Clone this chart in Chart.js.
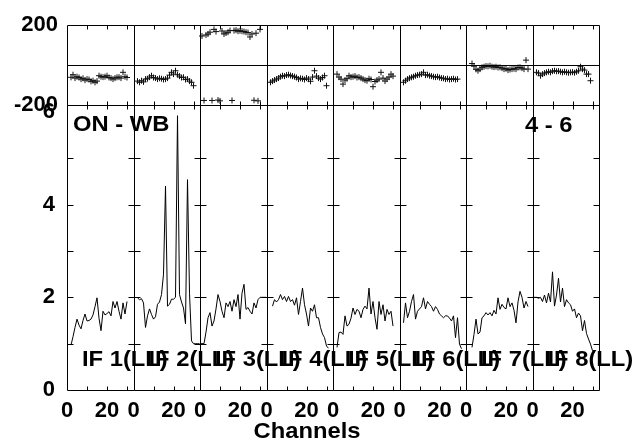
<!DOCTYPE html>
<html>
<head>
<meta charset="utf-8">
<script src="https://cdn.jsdelivr.net/npm/chart.js@4"></script>
<style>
  body { margin: 0; background: #fff; }
</style>
</head>
<body>
<canvas id="possm" width="636" height="443"></canvas>
<script>
// channel index inside one IF panel
const channels = [0, 1, 2, 3, 4, 5, 6, 7, 8, 9, 10, 11, 12, 13, 14, 15, 16,
  17, 18, 19, 20, 21, 22, 23, 24, 25, 26, 27, 28, 29, 30, 31, 32, 33];
const panelWidth = 33.25;
const ifLabels = ['IF 1(LL)', 'IF 2(LL)', 'IF 3(LL)', 'IF 4(LL)', 'IF 5(LL)', 'IF 6(LL)', 'IF 7(LL)', 'IF 8(LL)'];
const xTicks = [0, 20];
const xMinorTicks = [10, 20, 30];
const ampTicks = [0, 2, 4, 6];
const ampMinorTicks = [1, 2, 3, 4, 5];
const phaseTicks = [-200, 200];

// amplitude per IF (ON - WB)
const ampIF1 = [null, null, 0.97, 1.15, 1.35, 1.53, 1.40, 1.32, 1.50, 1.64, 1.49, 1.50, 1.53, 1.62, 1.80, 1.99, 1.55, 1.28, 1.70, 1.62, 1.65, 1.69, 1.60, 1.91, 1.77, 1.91, 1.70, 1.53, 1.88, 1.64, 1.91, null, null, null];
const ampIF2 = [null, null, 1.99, 1.95, 1.97, 1.88, 1.35, 1.60, 1.75, 1.63, 1.53, 1.58, 1.85, 1.90, 2.06, 2.5, 4.40, 1.81, 1.85, 1.96, 1.96, 2.0, 5.92, 2.06, 1.90, 1.77, 1.43, 4.54, 2.09, 1.06, 1.0, 1.0, 1.0, 1.0];
const ampIF3 = [1.0, 1.0, 1.0, 1.25, 1.56, 1.67, 1.38, 1.49, 1.75, 2.06, 1.91, 1.70, 1.56, 1.88, 1.80, 1.91, 1.70, 1.95, 1.80, 2.06, 1.53, 2.09, 2.28, 1.74, 1.78, 1.70, 1.64, 1.88, 1.77, 1.95, 2.0, 2.0, 2.0, 2.0];
const ampIF4 = [null, null, null, 1.81, 1.95, 1.90, 1.95, 2.06, 1.95, 2.02, 1.91, 2.02, 1.91, 1.95, 1.83, 1.99, 1.63, 1.91, 2.20, 1.84, 1.64, 1.38, 1.77, 1.70, 1.84, 1.56, 1.56, 1.35, 1.21, 1.13, 0.95, 0.90, null, null];
const ampIF5 = [null, null, 0.92, 1.24, 1.25, 1.20, 1.60, 1.38, 1.42, 1.55, 1.77, 1.63, 1.74, 1.70, 1.56, 1.74, 1.81, 1.75, 2.20, 1.64, 1.91, 1.56, 1.31, 1.91, 1.63, 1.84, 1.49, 1.74, 1.63, 1.70, 1.38, null, null, null];
const ampIF6 = [null, null, 1.45, 1.88, 1.56, 1.70, 1.91, 2.06, 1.53, 1.70, 1.75, 1.80, 1.99, 1.75, 1.91, 1.85, 1.80, 1.70, 1.80, 1.74, 1.64, 1.60, 1.56, 1.60, 1.60, 1.55, 1.49, 1.60, 1.13, 1.56, 0.99, 0.89, null, null];
const ampIF7 = [null, null, null, 0.92, 1.20, 1.53, 1.21, 1.25, 1.56, 1.60, 1.67, 1.62, 1.67, 1.60, 1.72, 1.64, 1.99, 1.74, 1.85, 1.78, 1.75, 1.99, 1.80, 1.88, 1.72, 1.45, 1.90, 2.13, 2.00, 1.77, 1.91, 1.80, null, null];
const ampIF8 = [2.0, 2.0, 2.0, 1.98, 2.0, 1.91, 2.05, 1.88, 2.09, 1.90, 2.55, 1.81, 2.05, 2.41, 1.90, 2.20, 1.80, 1.95, 1.88, 1.84, 1.70, 1.75, 1.56, 1.66, 1.60, 1.28, 1.50, 1.22, 1.10, 0.99, 0.85, 0.80, null, null];

// phase per IF (degrees)
const phaseIF1 = [null, null, -61, -48, -65, -58, -62, -70, -66, -75, -70, -72, -81, -78, -86, -80, -53, -58, -60, -58, -53, -62, -65, -70, -65, -61, -60, -65, -36, -58, -62, null, null, null];
const phaseIF2 = [null, null, -80, -86, -78, -84, -70, -68, -60, -53, -62, -65, -70, -66, -68, -72, -70, -65, -50, -36, -45, -28, -48, -55, -62, -61, -72, -70, -80, -86, -103, null, null, null];
const phaseIF3 = [null, 146, -177, 151, 156, 165, -177, 179, 168, -175, -179, 171, 156, 161, 165, 173, -177, 173, 175, 170, 172, 170, 168, 165, 163, 141, 156, -176, 160, -179, 179, null, null, null];
const phaseIF4 = [null, null, -86, -80, -75, -70, -65, -58, -53, -55, -50, -48, -52, -55, -58, -62, -70, -66, -68, -72, -65, -70, -81, -60, -28, -55, -65, -70, -62, -53, -103, null, null, null];
const phaseIF5 = [null, null, -45, -60, -70, -95, -75, -68, -53, -60, -58, -55, -62, -60, -65, -70, -75, -78, -68, -72, -108, -82, -75, -70, -36, -65, -80, -70, -60, -45, -55, null, null, null];
const phaseIF6 = [null, null, -86, -78, -70, -65, -61, -58, -53, -50, -48, -45, -36, -50, -48, -53, -55, -58, -60, -58, -62, -65, -66, -70, -68, -72, -70, -68, -72, -70, null, null, null, null];
const phaseIF7 = [null, null, null, 8, -5, -21, -28, -20, -11, -8, -5, -6, -3, -8, -10, -8, -12, -11, -15, -20, -18, -25, -22, -20, -18, -20, -12, -11, -15, -20, 25, -20, null, null];
const phaseIF8 = [null, null, -36, -40, -53, -45, -40, -36, -33, -36, -30, -28, -31, -30, -33, -36, -33, -36, -38, -36, -35, -38, -33, -28, -8, -20, -25, -45, -45, -78, null, null, null, null];

const ampSeries = [ampIF1, ampIF2, ampIF3, ampIF4, ampIF5, ampIF6, ampIF7, ampIF8];
const phaseSeries = [phaseIF1, phaseIF2, phaseIF3, phaseIF4, phaseIF5, phaseIF6, phaseIF7, phaseIF8];

const font = { family: '"Liberation Sans", Arial, sans-serif', size: 22, weight: 'bold' };
const fontCss = 'bold 22px "Liberation Sans", Arial, sans-serif';

function toPoints(values, panel) {
  return values.map((v, i) => ({ x: panel * panelWidth + channels[i], y: v }));
}

const datasets = [];
ampSeries.forEach((vals, p) => {
  datasets.push({
    data: toPoints(vals, p),
    yAxisID: 'yAmp',
    borderColor: '#000',
    borderWidth: 1,
    pointRadius: 0,
    tension: 0,
    fill: false
  });
});
phaseSeries.forEach((vals, p) => {
  datasets.push({
    data: toPoints(vals, p),
    yAxisID: 'yPhase',
    showLine: false,
    pointStyle: 'cross',
    pointRadius: 3,
    borderColor: '#111',
    borderWidth: 1
  });
});

const px = v => Math.round(v) + 0.5;

// stretched text, the plot's lettering is a bit wider than Liberation Sans
function wideText(ctx, text, x, y) {
  ctx.save();
  ctx.translate(x, y);
  ctx.scale(1.08, 1);
  ctx.fillText(text, 0, 0);
  ctx.restore();
}

// panel boxes, inward ticks and the text labels
const possmPlugin = {
  id: 'possm',
  afterDatasetsDraw(chart) {
    const { ctx, scales: { x, yAmp, yPhase } } = chart;
    ctx.save();
    ctx.strokeStyle = '#000';
    ctx.lineWidth = 1;
    const pTop = px(yPhase.top), pBot = px(yPhase.bottom);
    const aTop = px(yAmp.top), aBot = px(yAmp.bottom);
    const zero = px(yPhase.getPixelForValue(0));
    ctx.beginPath();
    for (let p = 0; p < ifLabels.length; p++) {
      const l = px(x.getPixelForValue(p * panelWidth));
      const r = px(x.getPixelForValue((p + 1) * panelWidth));
      ctx.rect(l, pTop, r - l, pBot - pTop);
      ctx.rect(l, aTop, r - l, aBot - aTop);
      ctx.moveTo(l, zero); ctx.lineTo(r, zero);
      xMinorTicks.forEach(c => {
        const tx = px(x.getPixelForValue(p * panelWidth + c));
        ctx.moveTo(tx, pTop); ctx.lineTo(tx, pTop + 4);
        ctx.moveTo(tx, pBot); ctx.lineTo(tx, pBot - 4);
        ctx.moveTo(tx, aTop); ctx.lineTo(tx, aTop + 4);
        ctx.moveTo(tx, aBot); ctx.lineTo(tx, aBot - 4);
      });
      ampMinorTicks.forEach(v => {
        const ty = px(yAmp.getPixelForValue(v));
        ctx.moveTo(l, ty); ctx.lineTo(l + 6, ty);
        ctx.moveTo(r, ty); ctx.lineTo(r - 6, ty);
      });
    }
    ctx.stroke();
    ctx.restore();
  },
  afterDraw(chart) {
    const { ctx, scales: { x, yAmp } } = chart;
    ctx.save();
    ctx.fillStyle = '#000';
    ctx.font = fontCss;
    ctx.textBaseline = 'middle';
    ctx.textAlign = 'left';
    ifLabels.forEach((t, p) => {
      wideText(ctx, t, x.getPixelForValue(p * panelWidth) + 15, yAmp.getPixelForValue(0.65));
    });
    wideText(ctx, 'ON - WB', x.getPixelForValue(3), yAmp.getPixelForValue(5.72));
    wideText(ctx, '4 - 6', x.getPixelForValue(229), yAmp.getPixelForValue(5.7));
    ctx.textAlign = 'center';
    wideText(ctx, 'Channels', x.getPixelForValue(120), chart.height - 11);
    ctx.restore();
  }
};

new Chart(document.getElementById('possm'), {
  type: 'line',
  data: { datasets },
  options: {
    responsive: false,
    animation: false,
    devicePixelRatio: 1,
    layout: { padding: { top: 20, right: 37, bottom: 0, left: 0 } },
    plugins: { legend: { display: false }, tooltip: { enabled: false } },
    scales: {
      x: {
        type: 'linear',
        min: 0,
        max: ifLabels.length * panelWidth,
        grid: { display: false, drawTicks: false },
        border: { display: false },
        afterBuildTicks: s => {
          const t = [];
          for (let p = 0; p < ifLabels.length; p++) {
            xTicks.forEach(v => t.push({ value: p * panelWidth + v }));
          }
          s.ticks = t;
        },
        ticks: {
          autoSkip: false, maxRotation: 0, padding: 8, color: '#000', font,
          callback: (v, i) => String(xTicks[i % xTicks.length])
        },
        afterFit: s => { s.height = 53; }
      },
      yAmp: {
        type: 'linear',
        position: 'left',
        stack: 'panels',
        stackWeight: 289,
        min: 0,
        max: 6.15,
        grid: { display: false, drawTicks: false },
        border: { display: false },
        afterBuildTicks: s => { s.ticks = ampTicks.map(v => ({ value: v })); },
        ticks: { padding: 12, color: '#000', font },
        afterFit: s => { s.width = 67; }
      },
      yPhase: {
        type: 'linear',
        position: 'left',
        stack: 'panels',
        stackWeight: 81,
        min: -200,
        max: 200,
        grid: { display: false, drawTicks: false },
        border: { display: false },
        afterBuildTicks: s => { s.ticks = phaseTicks.map(v => ({ value: v })); },
        ticks: { padding: 9, color: '#000', font },
        afterFit: s => { s.width = 67; }
      }
    }
  },
  plugins: [possmPlugin]
});
</script>
</body>
</html>
